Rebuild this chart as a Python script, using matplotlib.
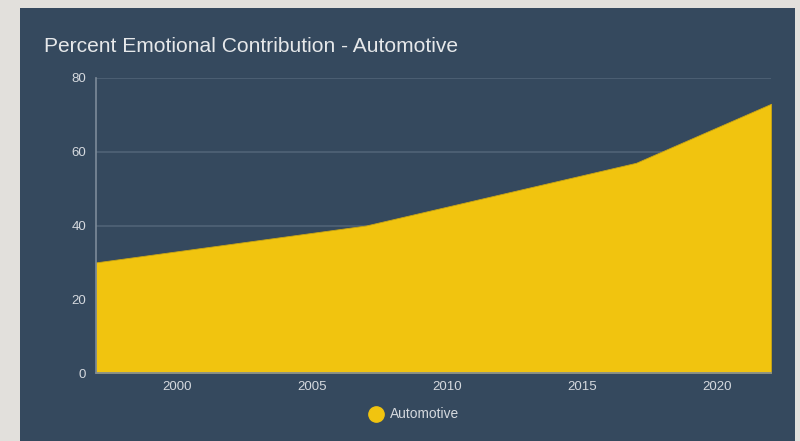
import matplotlib.pyplot as plt
from matplotlib.patches import Rectangle
from matplotlib.lines import Line2D

plt.rcParams['font.family'] = ['Liberation Sans', 'DejaVu Sans']

# series
years = [1997, 2007, 2017, 2022]
automotive = [30, 40, 57, 73]
x_ticks = [2000, 2005, 2010, 2015, 2020]
y_ticks = [0, 20, 40, 60, 80]

panel = '#35495e'
text_c = '#d5d9de'
grid_c = '#506377'
axis_c = '#7d8b99'
yellow = '#f1c40f'

W, H = 800, 441
fig = plt.figure(figsize=(W / 100, H / 100), dpi=100)
fig.patch.set_facecolor('#e2e0dc')
fig.patches.append(Rectangle((20 / W, 0), (795 - 20) / W, (H - 8) / H,
                             transform=fig.transFigure, facecolor=panel,
                             edgecolor='none', zorder=-5))

ax = fig.add_axes([96 / W, 1 - 373 / H, (771 - 96) / W, (373 - 78) / H])
ax.set_facecolor(panel)
ax.fill_between(years, automotive, 0, color=yellow, linewidth=0.6,
                edgecolor='#c9a514', zorder=2)

ax.set_xlim(1997, 2022)
ax.set_ylim(0, 80)
ax.set_xticks(x_ticks)
ax.set_yticks(y_ticks)
ax.grid(axis='y', color=grid_c, linewidth=1.2, zorder=1)
ax.set_axisbelow(True)

for s in ['top', 'right']:
    ax.spines[s].set_visible(False)
for s in ['left', 'bottom']:
    ax.spines[s].set_color(axis_c)
    ax.spines[s].set_linewidth(1.2)
    ax.spines[s].set_zorder(3)
ax.tick_params(length=0, colors=text_c, labelsize=9.5)
ax.tick_params(axis='y', pad=7)
ax.tick_params(axis='x', pad=6)

fig.text(44 / W, 1 - 47 / H, 'Percent Emotional Contribution - Automotive',
         color='#e6e8ea', fontsize=15.1, va='center', ha='left')

# legend
fig.add_artist(Line2D([376 / W], [1 - 414 / H], transform=fig.transFigure,
                      marker='o', markersize=11, color=yellow, linestyle='none'))
fig.text(390 / W, 1 - 414 / H, 'Automotive', color=text_c, fontsize=9.9,
         va='center', ha='left')

fig.savefig('out.png', dpi=100, facecolor=fig.get_facecolor())
